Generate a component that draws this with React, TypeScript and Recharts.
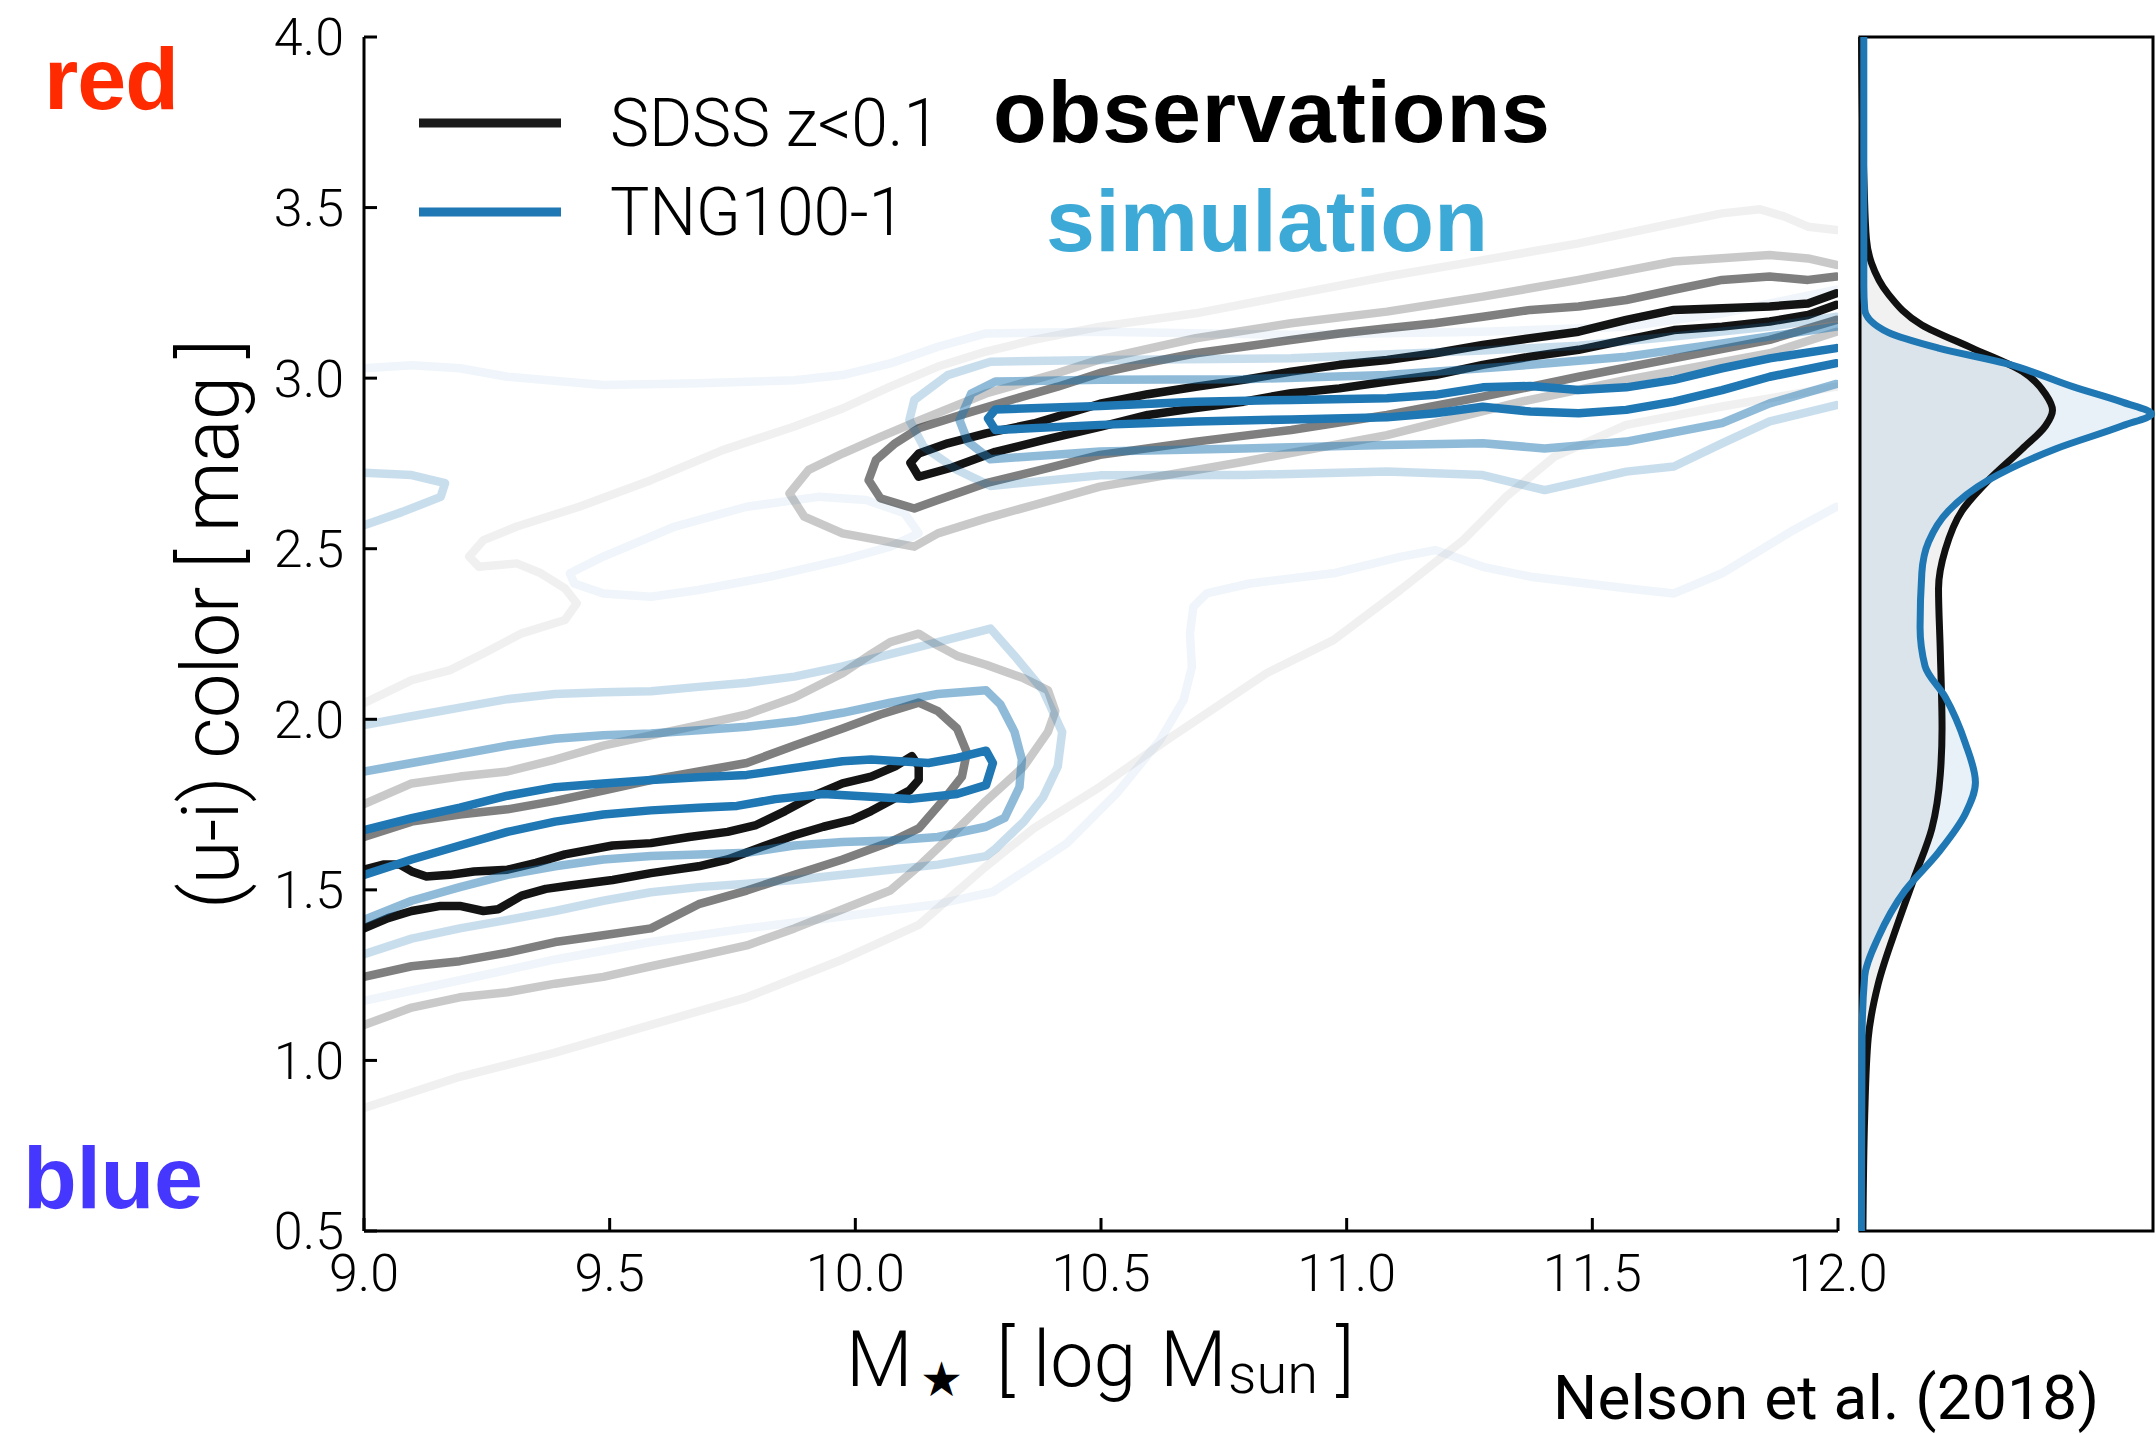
import React from 'react';
import { ComposedChart, Line, Area, XAxis, YAxis, ReferenceArea } from 'recharts';

// tick values
const xTicks = [9, 9.5, 10, 10.5, 11, 11.5, 12];
const yTicks = [0.5, 1, 1.5, 2, 2.5, 3, 3.5, 4];

// SDSS contours, blue cloud
const obsBlueInner = [
  [9.0, 1.559], [9.039, 1.574], [9.073, 1.574], [9.097, 1.554], [9.127, 1.539], [9.175, 1.544], [9.224, 1.554],
  [9.292, 1.559], [9.35, 1.579], [9.409, 1.604], [9.506, 1.63], [9.584, 1.637], [9.662, 1.655], [9.74, 1.67],
  [9.798, 1.69], [9.857, 1.731], [9.915, 1.776], [9.974, 1.812], [10.032, 1.832], [10.081, 1.862], [10.115, 1.892],
  [10.129, 1.862], [10.129, 1.822], [10.11, 1.791], [10.071, 1.761], [10.032, 1.731], [9.993, 1.705], [9.935, 1.685],
  [9.876, 1.66], [9.798, 1.62], [9.74, 1.589], [9.681, 1.569], [9.584, 1.549], [9.506, 1.529], [9.419, 1.513],
  [9.37, 1.503], [9.321, 1.483], [9.273, 1.443], [9.243, 1.438], [9.195, 1.453], [9.156, 1.453], [9.097, 1.438],
  [9.049, 1.417], [9.0, 1.387],
];
const obsBlueMid = [
  [9.0, 1.655], [9.097, 1.7], [9.195, 1.721], [9.292, 1.736], [9.389, 1.761], [9.487, 1.791], [9.584, 1.822],
  [9.681, 1.847], [9.779, 1.872], [9.876, 1.923], [9.974, 1.973], [10.051, 2.014], [10.129, 2.049], [10.168, 2.024],
  [10.207, 1.973], [10.227, 1.903], [10.217, 1.832], [10.178, 1.761], [10.129, 1.68], [10.071, 1.64], [9.974, 1.589],
  [9.876, 1.544], [9.779, 1.498], [9.681, 1.458], [9.584, 1.387], [9.487, 1.367], [9.389, 1.347], [9.292, 1.316],
  [9.195, 1.291], [9.097, 1.276], [9.0, 1.245],
];
const obsBlueOuter = [
  [9.0, 1.751], [9.097, 1.812], [9.195, 1.832], [9.292, 1.847], [9.389, 1.882], [9.487, 1.923], [9.584, 1.953],
  [9.681, 1.983], [9.779, 2.014], [9.876, 2.064], [9.974, 2.135], [10.032, 2.191], [10.071, 2.226], [10.129, 2.251],
  [10.168, 2.216], [10.207, 2.186], [10.266, 2.16], [10.343, 2.12], [10.392, 2.085], [10.407, 2.024], [10.392, 1.963],
  [10.343, 1.862], [10.266, 1.761], [10.188, 1.65], [10.129, 1.569], [10.071, 1.498], [9.974, 1.443], [9.876, 1.387],
  [9.779, 1.337], [9.681, 1.306], [9.584, 1.276], [9.487, 1.245], [9.389, 1.225], [9.292, 1.2], [9.195, 1.185],
  [9.097, 1.155], [9.0, 1.104],
];

// SDSS contours, red sequence
const obsRedInner = [
  [11.997, 3.249], [11.939, 3.219], [11.861, 3.21], [11.764, 3.205], [11.666, 3.2], [11.569, 3.171], [11.472, 3.136],
  [11.374, 3.117], [11.277, 3.097], [11.18, 3.073], [11.082, 3.053], [10.985, 3.039], [10.887, 3.019], [10.79, 2.995],
  [10.693, 2.975], [10.595, 2.953], [10.498, 2.925], [10.363, 2.867], [10.266, 2.838], [10.188, 2.809], [10.129, 2.779],
  [10.112, 2.752], [10.129, 2.711], [10.197, 2.738], [10.285, 2.784], [10.382, 2.818], [10.5, 2.858], [10.595, 2.892],
  [10.693, 2.912], [10.79, 2.931], [10.887, 2.956], [10.985, 2.97], [11.082, 2.99], [11.18, 3.009], [11.277, 3.039],
  [11.374, 3.063], [11.472, 3.083], [11.569, 3.112], [11.666, 3.141], [11.764, 3.151], [11.861, 3.166], [11.939, 3.185],
  [11.997, 3.215],
];
const obsRedMid = [
  [11.997, 3.298], [11.939, 3.288], [11.861, 3.298], [11.764, 3.288], [11.666, 3.259], [11.569, 3.229], [11.472, 3.21],
  [11.374, 3.2], [11.277, 3.18], [11.18, 3.161], [11.082, 3.146], [10.985, 3.131], [10.887, 3.112], [10.79, 3.092],
  [10.693, 3.073], [10.595, 3.045], [10.498, 3.015], [10.412, 2.975], [10.314, 2.935], [10.217, 2.893], [10.129, 2.853],
  [10.081, 2.809], [10.042, 2.76], [10.027, 2.701], [10.051, 2.648], [10.12, 2.618], [10.168, 2.643], [10.266, 2.692],
  [10.363, 2.726], [10.498, 2.775], [10.693, 2.814], [10.887, 2.848], [11.082, 2.892], [11.277, 2.946], [11.472, 3.004],
  [11.666, 3.058], [11.861, 3.112], [11.997, 3.171],
];
const obsRedOuter = [
  [11.997, 3.332], [11.939, 3.351], [11.861, 3.361], [11.666, 3.342], [11.472, 3.288], [11.277, 3.239], [11.082, 3.195],
  [10.887, 3.161], [10.693, 3.117], [10.498, 3.055], [10.412, 3.015], [10.266, 2.955], [10.129, 2.875], [10.051, 2.828],
  [9.974, 2.779], [9.905, 2.731], [9.866, 2.662], [9.896, 2.594], [9.974, 2.545], [10.12, 2.506], [10.168, 2.545],
  [10.266, 2.589], [10.363, 2.628], [10.498, 2.682], [10.79, 2.755], [11.082, 2.833], [11.355, 2.931], [11.569, 2.995],
  [11.861, 3.073], [11.997, 3.136],
];
const obsFaintUpper = [
  [9.0, 2.047], [9.097, 2.115], [9.175, 2.144], [9.243, 2.193], [9.321, 2.252], [9.409, 2.291], [9.433, 2.34],
  [9.409, 2.384], [9.36, 2.428], [9.311, 2.457], [9.234, 2.447], [9.214, 2.477], [9.243, 2.525], [9.311, 2.565],
  [9.438, 2.623], [9.584, 2.701], [9.73, 2.789], [9.876, 2.858], [9.974, 2.911], [10.071, 2.975], [10.168, 3.034],
  [10.266, 3.078], [10.363, 3.112], [10.498, 3.151], [10.693, 3.19], [10.887, 3.244], [11.082, 3.298], [11.277, 3.346],
  [11.472, 3.395], [11.666, 3.454], [11.764, 3.483], [11.841, 3.495], [11.89, 3.474], [11.939, 3.444], [11.997, 3.434],
];
const obsFaintLower = [
  [9.0, 0.861], [9.195, 0.952], [9.389, 1.023], [9.584, 1.104], [9.779, 1.185], [9.974, 1.296], [10.129, 1.397],
  [10.266, 1.569], [10.363, 1.68], [10.498, 1.802], [10.634, 1.939], [10.837, 2.135], [10.973, 2.232], [11.109, 2.379],
  [11.238, 2.526], [11.325, 2.653], [11.423, 2.77], [11.569, 2.863], [11.764, 2.917], [11.997, 2.975],
];

// TNG100-1 contours, blue cloud
const simBlueInner = [
  [9.0, 1.675], [9.097, 1.71], [9.195, 1.741], [9.292, 1.776], [9.389, 1.801], [9.487, 1.812], [9.584, 1.822],
  [9.681, 1.83], [9.779, 1.837], [9.876, 1.857], [9.974, 1.877], [10.032, 1.882], [10.09, 1.877], [10.149, 1.872],
  [10.207, 1.887], [10.266, 1.908], [10.28, 1.872], [10.266, 1.807], [10.207, 1.781], [10.11, 1.766], [10.032, 1.773],
  [9.935, 1.781], [9.837, 1.766], [9.759, 1.746], [9.681, 1.741], [9.584, 1.733], [9.487, 1.721], [9.389, 1.7],
  [9.292, 1.67], [9.195, 1.63], [9.097, 1.589], [9.0, 1.544],
];
const simBlueMid = [
  [9.0, 1.847], [9.097, 1.872], [9.195, 1.897], [9.292, 1.923], [9.389, 1.943], [9.487, 1.953], [9.584, 1.958],
  [9.681, 1.968], [9.779, 1.978], [9.876, 1.994], [9.974, 2.019], [10.071, 2.049], [10.168, 2.074], [10.266, 2.085],
  [10.295, 2.044], [10.324, 1.963], [10.339, 1.882], [10.334, 1.801], [10.304, 1.711], [10.266, 1.685], [10.168, 1.655],
  [10.071, 1.645], [9.974, 1.64], [9.876, 1.63], [9.779, 1.609], [9.681, 1.604], [9.584, 1.599], [9.487, 1.589],
  [9.389, 1.569], [9.292, 1.544], [9.195, 1.508], [9.097, 1.468], [9.0, 1.412],
];
const simBlueOuter = [
  [9.0, 1.983], [9.097, 2.009], [9.195, 2.034], [9.292, 2.059], [9.389, 2.074], [9.487, 2.079], [9.584, 2.082],
  [9.681, 2.095], [9.779, 2.107], [9.876, 2.125], [9.974, 2.155], [10.071, 2.191], [10.168, 2.226], [10.275, 2.266],
  [10.324, 2.186], [10.382, 2.085], [10.421, 1.963], [10.412, 1.862], [10.382, 1.771], [10.343, 1.7], [10.285, 1.62],
  [10.266, 1.599], [10.168, 1.574], [10.071, 1.559], [9.974, 1.544], [9.876, 1.529], [9.779, 1.518], [9.681, 1.508],
  [9.584, 1.493], [9.487, 1.468], [9.389, 1.438], [9.292, 1.412], [9.195, 1.387], [9.097, 1.357], [9.0, 1.311],
];

// TNG100-1 contours, red sequence
const simRedInner = [
  [11.997, 3.088], [11.861, 3.058], [11.764, 3.029], [11.666, 2.995], [11.569, 2.973], [11.472, 2.965], [11.374, 2.977],
  [11.277, 2.973], [11.18, 2.951], [11.082, 2.941], [10.887, 2.936], [10.693, 2.931], [10.498, 2.918], [10.285, 2.908],
  [10.27, 2.882], [10.285, 2.848], [10.498, 2.863], [10.693, 2.873], [10.887, 2.879], [11.082, 2.885], [11.18, 2.897],
  [11.277, 2.916], [11.374, 2.902], [11.472, 2.897], [11.569, 2.907], [11.666, 2.931], [11.764, 2.965], [11.861, 3.004],
  [11.997, 3.044],
];
const simRedMid = [
  [11.997, 3.151], [11.764, 3.102], [11.569, 3.063], [11.374, 3.039], [11.082, 3.009], [10.79, 2.997], [10.498, 2.995],
  [10.285, 2.99], [10.236, 2.955], [10.212, 2.877], [10.229, 2.814], [10.275, 2.762], [10.498, 2.785], [10.79, 2.794],
  [11.082, 2.804], [11.277, 2.809], [11.403, 2.794], [11.569, 2.814], [11.764, 2.868], [11.861, 2.926], [11.997, 2.983],
];
const simRedOuter = [
  [11.997, 3.18], [11.861, 3.151], [11.666, 3.122], [11.472, 3.095], [11.277, 3.081], [10.887, 3.058], [10.498, 3.053],
  [10.275, 3.048], [10.188, 3.009], [10.12, 2.936], [10.11, 2.877], [10.139, 2.799], [10.207, 2.731], [10.275, 2.684],
  [10.498, 2.715], [10.79, 2.716], [11.082, 2.726], [11.277, 2.716], [11.403, 2.672], [11.569, 2.726], [11.666, 2.741],
  [11.764, 2.809], [11.861, 2.873], [11.997, 2.921],
];
const simFaintTop = [
  [9.0, 3.029], [9.097, 3.038], [9.195, 3.029], [9.292, 3.004], [9.487, 2.98], [9.681, 2.985], [9.876, 2.994],
  [9.974, 3.009], [10.071, 3.043], [10.168, 3.092], [10.266, 3.131], [10.498, 3.136], [10.887, 3.127], [11.277, 3.136],
  [11.569, 3.151], [11.764, 3.19], [11.997, 3.259],
];
const simIsland = [
  [9.0, 2.723], [9.097, 2.716], [9.165, 2.692], [9.156, 2.652], [9.078, 2.608], [9.0, 2.569],
];
const simFaintLoop = [
  [9.419, 2.428], [9.487, 2.477], [9.633, 2.565], [9.779, 2.623], [9.925, 2.652], [10.022, 2.643], [10.1, 2.604],
  [10.129, 2.545], [10.071, 2.506], [9.974, 2.467], [9.827, 2.418], [9.681, 2.379], [9.584, 2.359], [9.487, 2.369],
  [9.428, 2.398], [9.419, 2.428],
];
const simFaintLower = [
  [9.0, 1.175], [9.195, 1.235], [9.389, 1.296], [9.584, 1.347], [9.779, 1.387], [9.974, 1.422], [10.168, 1.458],
  [10.28, 1.494], [10.43, 1.636], [10.532, 1.783], [10.62, 1.939], [10.668, 2.056], [10.685, 2.154], [10.681, 2.252],
  [10.688, 2.33], [10.715, 2.369], [10.803, 2.398], [10.973, 2.428], [11.109, 2.476], [11.18, 2.496], [11.277, 2.447],
  [11.374, 2.418], [11.569, 2.384], [11.666, 2.369], [11.764, 2.428], [11.91, 2.555], [11.997, 2.623],
];

// marginal color distributions: [color, density]
const obsHist = [
  [0.5, 0.01], [0.837, 0.016], [1.065, 0.028], [1.224, 0.062], [1.406, 0.131], [1.542, 0.188], [1.679, 0.245],
  [1.838, 0.274], [1.974, 0.28], [2.201, 0.274], [2.383, 0.268], [2.497, 0.291], [2.611, 0.348], [2.702, 0.44],
  [2.793, 0.554], [2.861, 0.634], [2.906, 0.657], [2.952, 0.634], [3.02, 0.554], [3.088, 0.383], [3.156, 0.211],
  [3.247, 0.096], [3.338, 0.039], [3.407, 0.022], [3.566, 0.014], [4.0, 0.005],
];
const simHist = [
  [0.5, 0.005], [1.065, 0.007], [1.247, 0.016], [1.36, 0.062], [1.497, 0.153], [1.61, 0.268], [1.724, 0.36],
  [1.815, 0.394], [1.929, 0.36], [2.065, 0.291], [2.156, 0.222], [2.27, 0.205], [2.429, 0.211], [2.52, 0.234],
  [2.611, 0.302], [2.702, 0.44], [2.793, 0.669], [2.861, 0.898], [2.895, 0.995], [2.929, 0.898], [2.975, 0.726],
  [3.043, 0.497], [3.088, 0.268], [3.134, 0.096], [3.202, 0.016], [3.27, 0.013], [4.0, 0.013],
];

const toXY = (a: number[][]) => a.map(([x, y]) => ({ x, y }));
const toYD = (a: number[][]) => a.map(([y, d]) => ({ y, d }));

const BLACK = 'rgba(0,0,0,0.92)';
const GRAY = 'rgba(0,0,0,0.5)';
const LGRAY = 'rgba(0,0,0,0.21)';
const FGRAY = 'rgba(0,0,0,0.06)';
const BLUE = '#1f77b4';
const MBLUE = 'rgba(31,119,180,0.5)';
const LBLUE = 'rgba(31,119,180,0.24)';
const FBLUE = 'rgba(31,119,180,0.07)';

const contours: [string, number[][], string][] = [
  ['obsFaintUpper', obsFaintUpper, FGRAY],
  ['obsFaintLower', obsFaintLower, FGRAY],
  ['simFaintTop', simFaintTop, FBLUE],
  ['simFaintLoop', simFaintLoop, FBLUE],
  ['simFaintLower', simFaintLower, FBLUE],
  ['simIsland', simIsland, LBLUE],
  ['obsBlueOuter', obsBlueOuter, LGRAY],
  ['obsRedOuter', obsRedOuter, LGRAY],
  ['obsBlueMid', obsBlueMid, GRAY],
  ['obsRedMid', obsRedMid, GRAY],
  ['obsBlueInner', obsBlueInner, BLACK],
  ['obsRedInner', obsRedInner, BLACK],
  ['simBlueOuter', simBlueOuter, LBLUE],
  ['simRedOuter', simRedOuter, LBLUE],
  ['simBlueMid', simBlueMid, MBLUE],
  ['simRedMid', simRedMid, MBLUE],
  ['simBlueInner', simBlueInner, BLUE],
  ['simRedInner', simRedInner, BLUE],
];

const tickFont = { fontSize: 52, fill: '#000', fontFamily: 'Roboto, sans-serif', fontWeight: 300 };
const axisStroke = { stroke: '#000', strokeWidth: 3 };
const light = 'Roboto, sans-serif';
const bold = "'Liberation Sans', Arial, sans-serif";

export default function App() {
  return (
    <div style={{ position: 'absolute', left: 0, top: 0, width: 2156, height: 1434, background: '#fff', overflow: 'hidden' }}>
      <div style={{ position: 'absolute', left: 0, top: 0 }}>
        {/* plot box: x 364..1838, y 37..1231 */}
        <ComposedChart width={1960} height={1434} margin={{ top: 37, right: 122, bottom: 0, left: 0 }}>
          <XAxis xAxisId="b" type="number" dataKey="x" domain={[9, 12]} ticks={xTicks} allowDataOverflow
            height={203} tickSize={-13} tickMargin={36} tickFormatter={(v: number) => v.toFixed(1)}
            axisLine={axisStroke} tickLine={axisStroke} tick={tickFont} interval={0} />
          <XAxis xAxisId="t" orientation="top" type="number" dataKey="x" domain={[9, 12]} ticks={xTicks} allowDataOverflow
            height={0} tickSize={-13} axisLine={axisStroke} tickLine={axisStroke} tick={false} interval={0} />
          <YAxis yAxisId="l" type="number" domain={[0.5, 4]} ticks={yTicks} allowDataOverflow
            width={364} tickSize={-13} tickMargin={33} tickFormatter={(v: number) => v.toFixed(1)}
            axisLine={axisStroke} tickLine={axisStroke} tick={tickFont} interval={0} />
          <YAxis yAxisId="r" orientation="right" type="number" domain={[0.5, 4]} ticks={yTicks} allowDataOverflow
            width={0} tickSize={-13} axisLine={axisStroke} tickLine={axisStroke} tick={false} interval={0} />
          {contours.map(([name, pts, color]) => (
            <Line key={name} xAxisId="b" yAxisId="l" data={toXY(pts)} dataKey="y" type="linear"
              stroke={color} strokeWidth={8.5} strokeLinejoin="round" strokeLinecap="round"
              dot={false} activeDot={false} isAnimationActive={false} />
          ))}
        </ComposedChart>
      </div>

      <div style={{ position: 'absolute', left: 1840, top: 0 }}>
        <ComposedChart layout="vertical" width={316} height={1434} margin={{ top: 37, right: 3, bottom: 203, left: 20 }}>
          <XAxis type="number" domain={[0, 1]} hide />
          <YAxis type="number" dataKey="y" domain={[0.5, 4]} reversed hide />
          <Area data={toYD(obsHist)} dataKey="d" type="monotone" stroke="none" fill="#a0a0a0" fillOpacity={0.15} isAnimationActive={false} />
          <Area data={toYD(simHist)} dataKey="d" type="monotone" stroke="none" fill={BLUE} fillOpacity={0.1} isAnimationActive={false} />
          <Line data={toYD(obsHist)} dataKey="d" type="monotone" stroke="#111" strokeWidth={7} dot={false} activeDot={false} isAnimationActive={false} />
          <Line data={toYD(simHist)} dataKey="d" type="monotone" stroke={BLUE} strokeWidth={7} dot={false} activeDot={false} isAnimationActive={false} />
          <ReferenceArea x1={0} x2={1} y1={0.5} y2={4} fill="none" stroke="#000" strokeWidth={3} ifOverflow="visible" />
        </ComposedChart>
      </div>

      <svg width={2156} height={1434} style={{ position: 'absolute', left: 0, top: 0, pointerEvents: 'none' }}>
        <text x={44} y={109} fontFamily={bold} fontWeight={700} fontSize={88} fill="#ff2a00" textLength={135}>red</text>
        <text x={23} y={1208} fontFamily={bold} fontWeight={700} fontSize={88} fill="#4637ff" textLength={180}>blue</text>
        <text x={993} y={142} fontFamily={bold} fontWeight={700} fontSize={88} fill="#000" textLength={557}>observations</text>
        <text x={1046} y={251} fontFamily={bold} fontWeight={700} fontSize={88} fill="#3ca9d6" textLength={442}>simulation</text>

        <line x1={419} y1={123} x2={561} y2={123} stroke="#1a1a1a" strokeWidth={9} />
        <line x1={419} y1={212} x2={561} y2={212} stroke={BLUE} strokeWidth={9} />
        <text x={610} y={146} fontFamily={light} fontWeight={300} fontSize={66} fill="#000" textLength={330}>SDSS z&lt;0.1</text>
        <text x={610} y={235} fontFamily={light} fontWeight={300} fontSize={66} fill="#000" textLength={295}>TNG100-1</text>

        <text transform="translate(238,624) rotate(-90)" textAnchor="middle" fontFamily={light} fontWeight={300}
          fontSize={80} fill="#000" textLength={570}>(u-i) color [ mag ]</text>

        <text y={1386} fontFamily={light} fontWeight={300} fontSize={77} fill="#000">
          <tspan x={846}>M</tspan>
          <tspan x={920} y={1396} fontSize={48} fontFamily="'DejaVu Sans', sans-serif">★</tspan>
          <tspan x={996} y={1386}>[</tspan>
          <tspan x={1033}>log</tspan>
          <tspan x={1160}>M</tspan>
          <tspan x={1228} fontSize={56} y={1393}>sun</tspan>
          <tspan x={1336} y={1386}>]</tspan>
        </text>

        <text x={1553} y={1419} fontFamily={light} fontWeight={400} fontSize={62} fill="#000" textLength={546}>Nelson et al. (2018)</text>
      </svg>
    </div>
  );
}
